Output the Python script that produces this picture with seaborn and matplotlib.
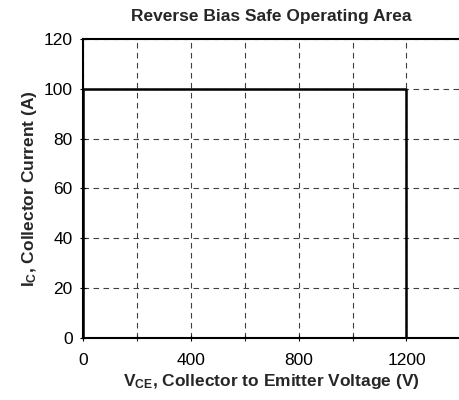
import matplotlib
matplotlib.use("Agg")
import pandas as pd
import seaborn as sns
import matplotlib.pyplot as plt

# data: RBSOA boundary
vce = [0, 0, 1200, 1200]
ic = [0, 100, 100, 0]
x_ticks = [0, 400, 800, 1200]
y_ticks = [0, 20, 40, 60, 80, 100, 120]

sns.set_style("white")
plt.rcParams['font.family'] = ['Liberation Sans', 'DejaVu Sans']
plt.rcParams['mathtext.fontset'] = 'custom'
plt.rcParams['mathtext.rm'] = 'Liberation Sans'
plt.rcParams['mathtext.bf'] = 'Liberation Sans:bold'

fig = plt.figure(figsize=(4.59, 4.0), dpi=100)
ax = fig.add_axes([0.181, 0.155, 0.822, 0.748])

df = pd.DataFrame({'VCE': vce, 'IC': ic})
sns.lineplot(data=df, x='VCE', y='IC', sort=False, estimator=None,
             color='black', linewidth=1.8, ax=ax)

ax.set_xlim(0, 1400)
ax.set_ylim(0, 120)
ax.set_xticks(x_ticks)
ax.set_xticks(range(0, 1401, 200), minor=True)
ax.set_yticks(y_ticks)
ax.grid(True, which='both', color='#404040', linestyle=(0, (5, 4)), linewidth=0.8)
ax.set_axisbelow(True)

for s in ['left', 'bottom', 'top']:
    ax.spines[s].set_color('black')
    ax.spines[s].set_linewidth(1.5)
ax.spines['right'].set_visible(False)

ax.tick_params(axis='both', which='major', direction='inout', length=5, width=0.8,
               labelsize=12.5, colors='black', left=True, bottom=True)
ax.tick_params(axis='x', which='major', pad=8)
ax.tick_params(axis='y', which='major', pad=5)
ax.tick_params(axis='x', which='minor', direction='inout', length=5, width=0.8, bottom=True)

ax.set_title('Reverse Bias Safe Operating Area', fontsize=12.5, fontweight='bold', pad=13)
ax.set_xlabel(r'$\mathbf{V_{CE}}$, Collector to Emitter Voltage (V)', fontsize=12.5,
              fontweight='bold', labelpad=3)
ax.set_ylabel(r'$\mathbf{I_C}$, Collector Current (A)', fontsize=12.5,
              fontweight='bold', labelpad=3)

fig.savefig('out.png', dpi=100)
